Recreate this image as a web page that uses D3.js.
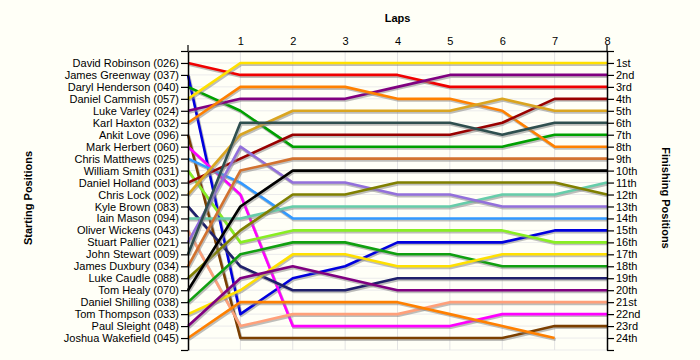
<!DOCTYPE html>
<html>
<head>
<meta charset="utf-8">
<script src="https://cdn.jsdelivr.net/npm/d3@7"></script>
<style>
  html, body { margin: 0; padding: 0; background: #fffff7; }
  svg { display: block; }
  text { font-family: "Liberation Sans", Arial, sans-serif; }
</style>
</head>
<body>
<svg id="chart" width="700" height="360"></svg>
<script>
// ---- DATA ----
const laps = [0, 1, 2, 3, 4, 5, 6, 7, 8];
const lapLabels = ["1", "2", "3", "4", "5", "6", "7", "8"];
const drivers = [
  "David Robinson (026)", "James Greenway (037)", "Daryl Henderson (040)", "Daniel Cammish (057)",
  "Luke Varley (024)", "Karl Haxton (032)", "Ankit Love (096)", "Mark Herbert (060)",
  "Chris Matthews (025)", "William Smith (031)", "Daniel Holland (003)", "Chris Lock (002)",
  "Kyle Brown (083)", "Iain Mason (094)", "Oliver Wickens (043)", "Stuart Pallier (021)",
  "John Stewart (009)", "James Duxbury (034)", "Luke Caudle (088)", "Tom Healy (070)",
  "Daniel Shilling (038)", "Tom Thompson (033)", "Paul Sleight (048)", "Joshua Wakefield (045)"
];
const finishLabels = ["1st","2nd","3rd","4th","5th","6th","7th","8th","9th","10th","11th","12th",
  "13th","14th","15th","16th","17th","18th","19th","20th","21st","22nd","23rd","24th"];
const colors = [
  "#f00000", "#0000dd", "#00a000", "#ffe000", "#800080", "#ff8000", "#7b3f00", "#ff00ff",
  "#3399ff", "#88ee22", "#990000", "#daa520", "#1f1f6b", "#66cdaa", "#ffa07a", "#9370db",
  "#2f4f4f", "#d2722f", "#808000", "#000000", "#10a010", "#ffe000", "#800080", "#ff8000"
];
// position of each driver at lap 0 (start) .. lap 8 (finish); null = retired
const positions = [
  [1, 2, 2, 2, 2, 3, 3, 3, 3],
  [2, 22, 19, 18, 16, 16, 16, 15, 15],
  [3, 5, 8, 8, 8, 8, 8, 7, 7],
  [4, 1, 1, 1, 1, 1, 1, 1, 1],
  [5, 4, 4, 4, 3, 2, 2, 2, 2],
  [6, 3, 3, 3, 4, 4, 5, 8, 8],
  [7, 24, 24, 24, 24, 24, 24, 23, 23],
  [8, 12, 23, 23, 23, 23, 22, 22, 22],
  [9, 11, 14, 14, 14, 14, 14, 14, 14],
  [10, 16, 15, 15, 15, 15, 15, 16, 16],
  [11, 9, 7, 7, 7, 7, 6, 4, 4],
  [12, 7, 5, 5, 5, 5, 4, 5, 5],
  [13, 18, 20, 20, 19, 19, 19, 19, 19],
  [14, 14, 13, 13, 13, 13, 12, 12, 11],
  [15, 23, 22, 22, 22, 21, 21, 21, 21],
  [16, 8, 11, 11, 12, 12, 13, 13, 13],
  [17, 6, 6, 6, 6, 6, 7, 6, 6],
  [18, 10, 9, 9, 9, 9, 9, 9, 9],
  [19, 15, 12, 12, 11, 11, 11, 11, 12],
  [20, 13, 10, 10, 10, 10, 10, 10, 10],
  [21, 17, 16, 16, 17, 17, 18, 18, 18],
  [22, 20, 17, 17, 18, 18, 17, 17, 17],
  [23, 19, 18, 19, 20, 20, 20, 20, 20],
  [24, 21, 21, 21, 21, 22, 23, 24, null]
];

// ---- CHART ----
const svg = d3.select("#chart");
svg.append("rect").attr("width", 700).attr("height", 360).attr("fill", "#fffff7");

const x = d3.scaleLinear().domain([0, 8]).range([188, 607]);
const y = d3.scaleLinear().domain([0, 25]).range([51, 350]);
const rows = d3.range(0, 26);

// gridlines
const grid = svg.append("g");
grid.selectAll("line.h").data(rows.slice(1)).join("line")
  .attr("x1", x(0)).attr("x2", x(8))
  .attr("y1", d => y(d)).attr("y2", d => y(d))
  .attr("stroke", "#ebebeb").attr("stroke-width", 1);
grid.selectAll("line.v").data(laps.slice(1, 8)).join("line")
  .attr("x1", d => x(d)).attr("x2", d => x(d))
  .attr("y1", y(0)).attr("y2", y(25))
  .attr("stroke", "#e3e3e3").attr("stroke-width", 1);

// lines
const line = d3.line()
  .defined(d => d.p != null)
  .x(d => x(d.lap))
  .y(d => y(d.p));

const series = positions.map((arr, i) => ({
  name: drivers[i],
  color: colors[i],
  pts: arr.map((p, j) => ({ lap: laps[j], p: p }))
}));

const lines = svg.append("g");
series.forEach(s => {
  lines.append("path")
    .attr("d", line(s.pts))
    .attr("fill", "none")
    .attr("stroke", "#888")
    .attr("stroke-opacity", 0.55)
    .attr("stroke-width", 3)
    .attr("stroke-linejoin", "round")
    .attr("transform", "translate(1,1.5)");
  lines.append("path")
    .attr("d", line(s.pts))
    .attr("fill", "none")
    .attr("stroke", s.color)
    .attr("stroke-width", 2.6)
    .attr("stroke-linejoin", "round");
});

// left axis
const leftAxis = d3.axisLeft(y).tickValues(rows).tickSize(7).tickSizeOuter(0).tickPadding(2)
  .tickFormat(d => drivers[d - 1] || "");
const gl = svg.append("g").attr("transform", `translate(${x(0)},0)`).call(leftAxis);

// right axis
const rightAxis = d3.axisRight(y).tickValues(rows).tickSize(7).tickSizeOuter(0).tickPadding(2)
  .tickFormat(d => finishLabels[d - 1] || "");
const gr = svg.append("g").attr("transform", `translate(${x(8)},0)`).call(rightAxis);

// top axis
const topAxis = d3.axisTop(x).tickValues(laps).tickSize(0).tickSizeOuter(0).tickPadding(6)
  .tickFormat(d => d === 0 ? "" : lapLabels[d - 1]);
const gt = svg.append("g").attr("transform", `translate(0,${y(0)})`).call(topAxis);

[gl, gr, gt].forEach(g => {
  g.selectAll("text").attr("font-size", 11).attr("fill", "#000")
    .attr("font-family", "'Liberation Sans', Arial, sans-serif");
  g.selectAll("line, path").attr("stroke", "#000").attr("stroke-width", 1.2);
  g.select(".domain").attr("stroke-width", 1.5);
});

// small upward ticks at the ends of the top axis
svg.append("g").selectAll("line").data([laps[0], laps[8]]).join("line")
  .attr("x1", d => x(d)).attr("x2", d => x(d))
  .attr("y1", y(0) - 6).attr("y2", y(0))
  .attr("stroke", "#000").attr("stroke-width", 1.2);

// titles
svg.append("text").attr("x", (x(0) + x(8)) / 2).attr("y", 22)
  .attr("text-anchor", "middle").attr("font-size", 11).attr("font-weight", "bold")
  .text("Laps");
svg.append("text").attr("transform", "translate(32,198) rotate(-90)")
  .attr("text-anchor", "middle").attr("font-size", 11).attr("font-weight", "bold")
  .text("Starting Positions");
svg.append("text").attr("transform", "translate(662,198) rotate(90)")
  .attr("text-anchor", "middle").attr("font-size", 11).attr("font-weight", "bold")
  .text("Finishing Positions");
</script>
</body>
</html>
